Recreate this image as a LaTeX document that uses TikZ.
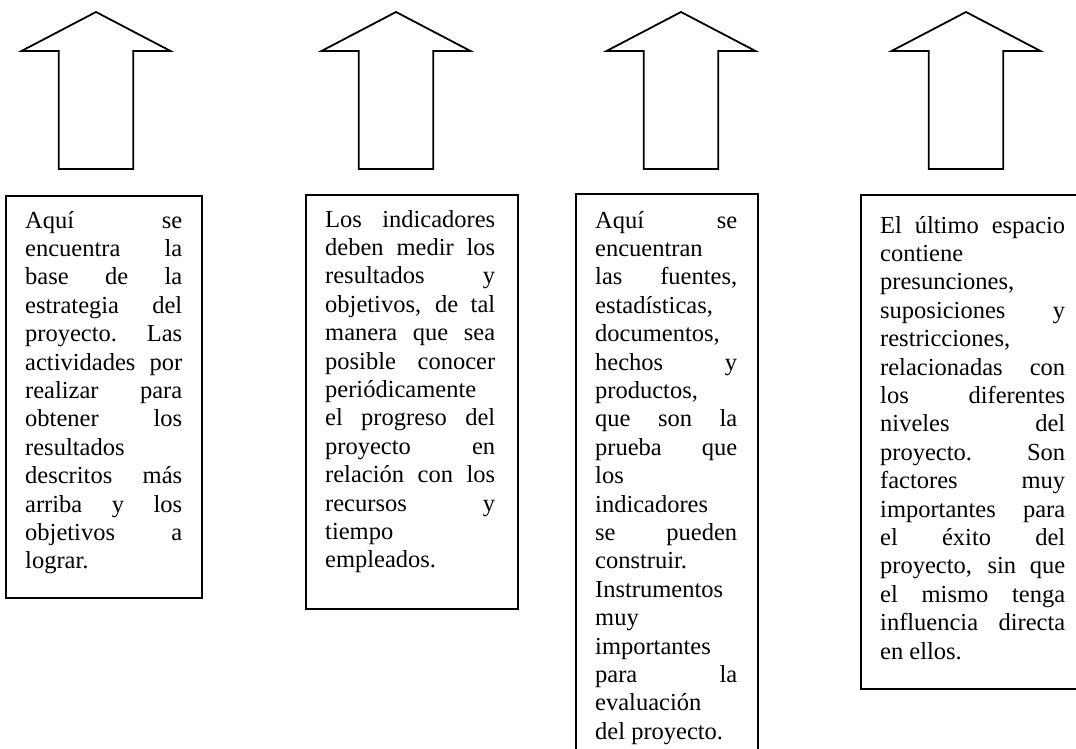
\documentclass[tikz,border=0pt]{standalone}
\usepackage{fontspec}
\setmainfont{Liberation Serif}
\newcommand\jline[1]{\hbox to\hsize{\spaceskip=0.25em plus 1fil\relax #1}}
\newcommand\nline[1]{\hbox{#1}}
\newcommand\bigup[1]{%
  \draw[arrowline] (#1,12) -- (#1+74.5,51) -- (#1+37.3,51) -- (#1+37.3,169)
    -- (#1-37.3,169) -- (#1-37.3,51) -- (#1-74.5,51) -- cycle;}
\tikzset{
  arrowline/.style={line width=1.8bp, line join=miter, black},
  box/.style={draw, line width=2.3bp, inner sep=0pt, anchor=north west},
  txt/.style={inner sep=0pt, anchor=base west, font=\fontsize{24.5bp}{28.4bp}\selectfont}
}
\begin{document}
\begin{tikzpicture}[x=1bp,y=-1bp]
\clip (0,0) rectangle (1076,749);
\fill[white] (0,0) rectangle (1076,749);
\bigup{96}
\bigup{396}
\bigup{681}
\bigup{966}
\node[box, minimum width=196bp, minimum height=402bp] (b1) at (5,195) {};
\node[box, minimum width=212bp, minimum height=414bp] (b2) at (305,194) {};
\node[box, minimum width=182bp, minimum height=580bp] (b3) at (575,193) {};
\node[box, minimum width=222bp, minimum height=494bp] (b4) at (860,194) {};
\node[txt] (t1) at (25,228) {\vtop{\hsize=157bp
\jline{Aquí se}
\jline{encuentra la}
\jline{base de la}
\jline{estrategia del}
\jline{proyecto. Las}
\jline{actividades por}
\jline{realizar para}
\jline{obtener los}
\nline{resultados}
\jline{descritos más}
\jline{arriba y los}
\jline{objetivos a}
\nline{lograr.}}};
\node[txt] (t2) at (325,227) {\vtop{\hsize=170bp
\jline{Los indicadores}
\jline{deben medir los}
\jline{resultados y}
\jline{objetivos, de tal}
\jline{manera que sea}
\jline{posible conocer}
\nline{periódicamente}
\jline{el progreso del}
\jline{proyecto en}
\jline{relación con los}
\jline{recursos y}
\nline{tiempo}
\nline{empleados.}}};
\node[txt] (t3) at (595,228) {\vtop{\hsize=142bp
\jline{Aquí se}
\nline{encuentran}
\jline{las fuentes,}
\nline{estadísticas,}
\nline{documentos,}
\jline{hechos y}
\nline{productos,}
\jline{que son la}
\jline{prueba que}
\nline{los}
\nline{indicadores}
\jline{se pueden}
\nline{construir.}
\nline{Instrumentos}
\nline{muy}
\nline{importantes}
\jline{para la}
\nline{evaluación}
\nline{del proyecto.}}};
\node[txt] (t4) at (880,233) {\vtop{\hsize=185bp
\jline{El último espacio}
\nline{contiene}
\nline{presunciones,}
\jline{suposiciones y}
\nline{restricciones,}
\jline{relacionadas con}
\jline{los diferentes}
\jline{niveles del}
\jline{proyecto. Son}
\jline{factores muy}
\jline{importantes para}
\jline{el éxito del}
\jline{proyecto, sin que}
\jline{el mismo tenga}
\jline{influencia directa}
\nline{en ellos.}}};
\end{tikzpicture}
\end{document}
